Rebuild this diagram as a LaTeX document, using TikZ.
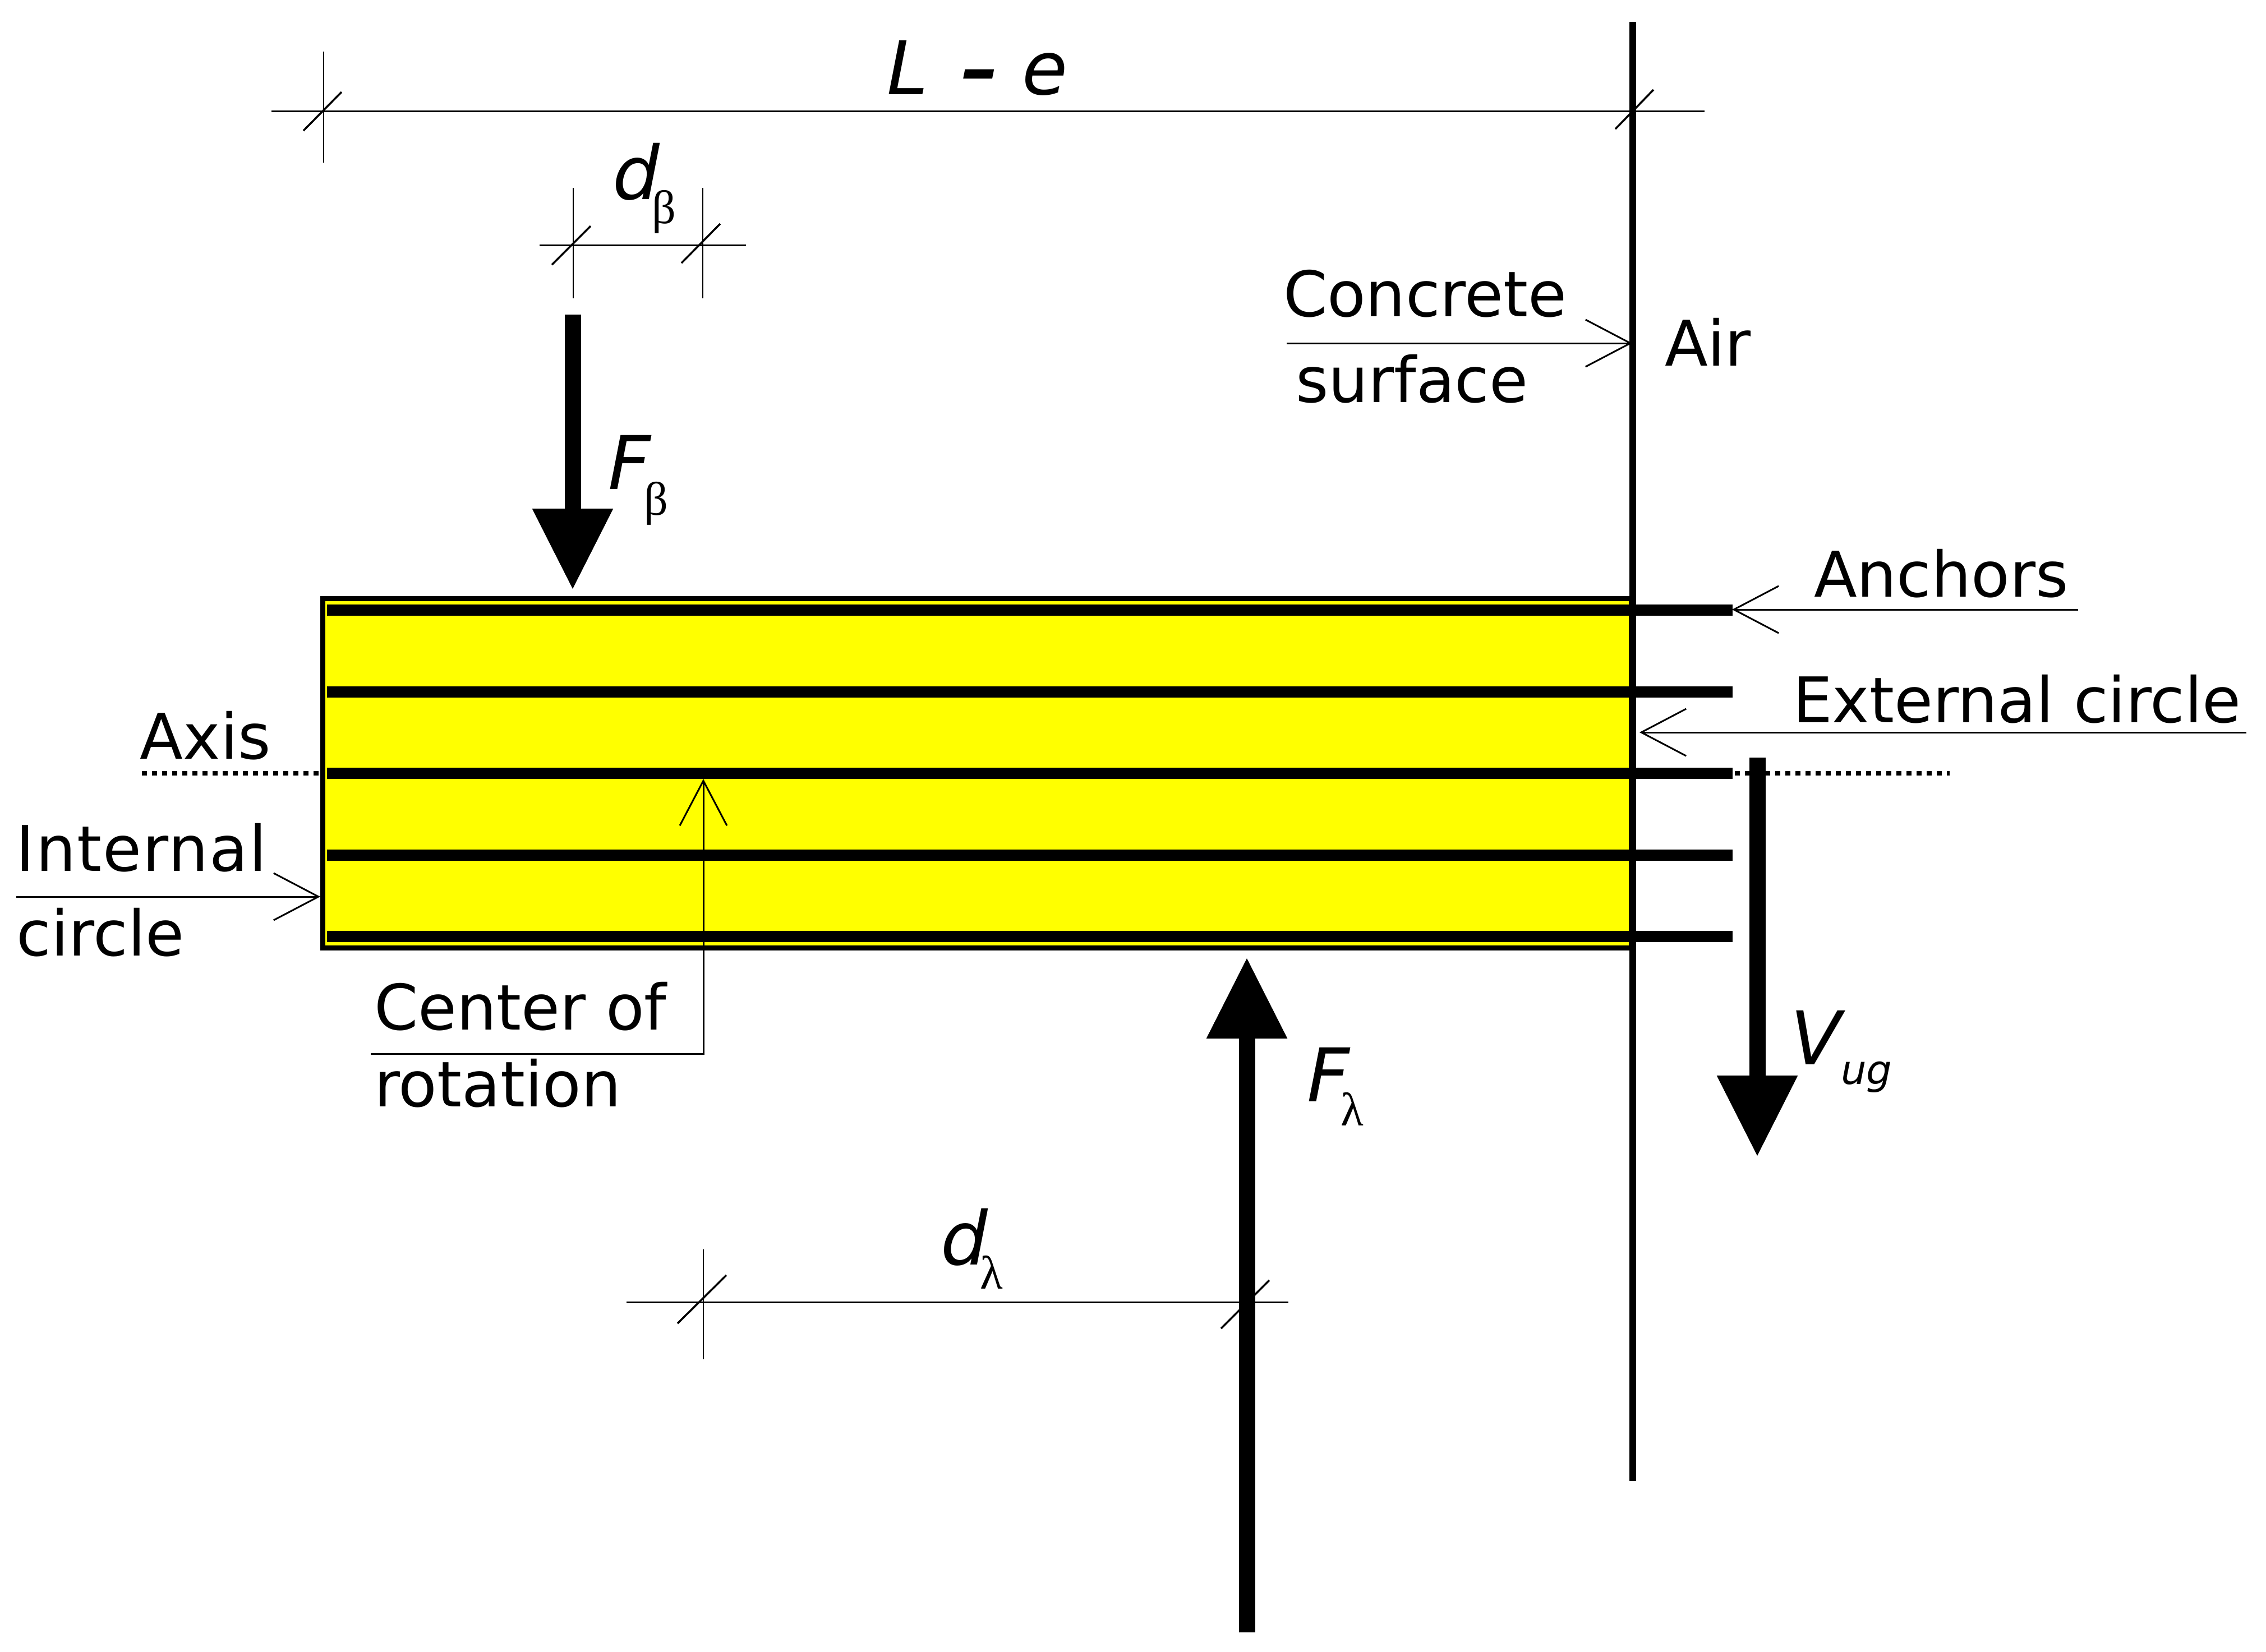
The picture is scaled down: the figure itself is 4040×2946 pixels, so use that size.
\documentclass[tikz,border=0pt]{standalone}
\usepackage{fontspec}
\setmainfont{DejaVu Sans}
\newfontfamily\greekf{Liberation Serif}
\usetikzlibrary{arrows.meta}
\newcommand\grsub[2]{\raisebox{#1}{\upshape\greekf\fontsize{8.4}{10}\selectfont #2}}
\tikzset{
  lab/.style={font=\fontsize{11.22}{13}\selectfont, inner sep=0pt, outer sep=0pt, anchor=base west},
  symb/.style={font=\fontsize{13.2}{15}\selectfont\itshape, inner sep=0pt, outer sep=0pt, anchor=base west},
  dimline/.style={line width=0.3pt},
  tickline/.style={line width=0.2pt},
  slashline/.style={line width=0.35pt},
  leader/.style={line width=0.3pt, -{Straight Barb[length=8pt,width=8.4pt]}},
  force/.style={line width=2.9pt, -{Triangle[length=14.5pt,width=13.6pt]}},
  bar/.style={line width=2pt},
  axisline/.style={line width=0.85pt, dash pattern=on 0.9pt off 0.9pt},
}
\begin{document}
\begin{tikzpicture}[x=0.1pt,y=-0.1pt]
\useasboundingbox (0,0) rectangle (4040,2946);
% named points
\coordinate (sT) at (2911,39);
\coordinate (sB) at (2911,2641);
\foreach \n/\y in {a/1088,b/1234,c/1379,d/1525,e/1670}{
  \coordinate (\n L) at (583,\y);
  \coordinate (\n R) at (3089,\y);
}
% concrete body
\draw[line width=0.9pt, fill={rgb,255:red,255;green,255;blue,0}] (575,1067) rectangle (2908,1690);
\foreach \n in {a,b,c,d,e}{\draw[bar] (\n L) -- (\n R);}
% axis
\coordinate (axL) at (253,1379);
\coordinate (axLe) at (575,1379);
\coordinate (axR) at (3093,1379);
\coordinate (axRe) at (3476,1379);
\draw[axisline] (axL) -- (axLe);
\draw[axisline] (axR) -- (axRe);
% dimension L-e
\coordinate (leA) at (484,198); \coordinate (leB) at (3039,198);
\draw[dimline] (leA) -- (leB);
\draw[tickline] (576.5,92) -- (576.5,290);
\draw[slashline] (541,233) -- (609,164);
\draw[slashline] (2880,230) -- (2948,160);
% surface
\draw[line width=1.2pt] (sT) -- (sB);
% dimension d beta
\coordinate (dbA) at (962,437.5); \coordinate (dbB) at (1330,437.5);
\draw[dimline] (dbA) -- (dbB);
\draw[tickline] (1022,335) -- (1022,532);
\draw[tickline] (1253,335) -- (1253,532);
\draw[slashline] (984,472) -- (1053,403);
\draw[slashline] (1215,469) -- (1284,399);
% dimension d lambda
\coordinate (dlA) at (1117,2322); \coordinate (dlB) at (2297,2322);
\draw[dimline] (dlA) -- (dlB);
\draw[tickline] (1254,2228) -- (1254,2424);
\draw[slashline] (1208,2360) -- (1295,2274);
\draw[slashline] (2177,2369) -- (2263,2283);
% forces
\coordinate (fbS) at (1021,561); \coordinate (fbE) at (1021,1052);
\coordinate (flS) at (2223,2911); \coordinate (flE) at (2223,1707);
\coordinate (vS) at (3133,1351); \coordinate (vE) at (3133,2063);
\draw[force] (fbS) -- (fbE);
\draw[force] (flS) -- (flE);
\draw[force] (vS) -- (vE);
% leaders
\coordinate (icS) at (29,1599); \coordinate (icE) at (571,1599);
\coordinate (csS) at (2294,612); \coordinate (csE) at (2910,612);
\coordinate (anS) at (3705,1087); \coordinate (anE) at (3088,1087);
\coordinate (exS) at (4005,1306); \coordinate (exE) at (2923,1306);
\coordinate (crS) at (661,1879); \coordinate (crC) at (1254,1879); \coordinate (crE) at (1254,1389);
\draw[leader] (icS) -- (icE);
\draw[leader] (csS) -- (csE);
\draw[leader] (anS) -- (anE);
\draw[leader] (exS) -- (exE);
\draw[leader] (crS) -- (crC) -- (crE);
% labels
\node[lab] (tAxis) at (250,1353) {Axis};
\node[lab] (tInt) at (29,1553) {\addfontfeature{LetterSpace=1.8}Internal};
\node[lab] (tCir) at (30,1704) {circle};
\node[lab] (tCen) at (667,1836) {Center of};
\node[lab] (tRot) at (667,1973) {rotation};
\node[lab] (tAnc) at (3234,1064) {Anchors};
\node[lab] (tExt) at (3196,1288) {External circle};
\node[lab] (tCon) at (2288,564) {Concrete};
\node[lab] (tSur) at (2310,717) {surface};
\node[lab] (tAir) at (2968,652) {Air};
\node[symb] (tLe) at (1581,168) {L\hspace{1.8pt} {\bfseries –} e};
\node[symb] (tdb) at (1092,355) {d\hspace{-1.3pt}\grsub{-4.3pt}{β}};
\node[symb] (tFb) at (1084,872) {F\hspace{-1.1pt}\grsub{-4.6pt}{β}};
\node[symb] (tdl) at (1678,2255) {d\hspace{-1.4pt}\grsub{-4.3pt}{λ}};
\node[symb] (tFl) at (2330,1964) {F\hspace{-1.5pt}\grsub{-4.3pt}{λ}};
\node[symb] (tV) at (3192,1898) {V\raisebox{-3.5pt}{\fontsize{7.2}{9}\selectfont ug}};
\end{tikzpicture}
\end{document}
